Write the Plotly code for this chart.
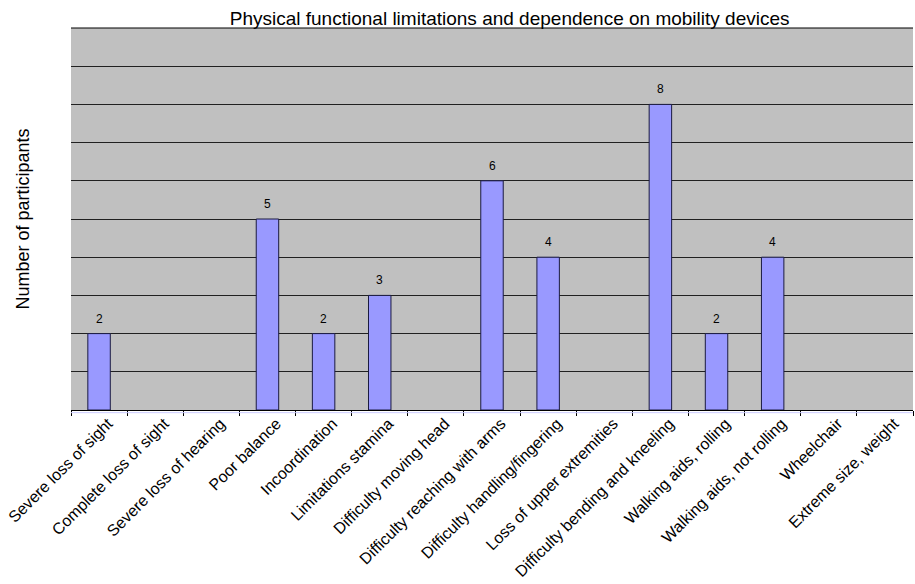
import plotly.graph_objects as go

categories = [
    "Severe loss of sight", "Complete loss of sight", "Severe loss of hearing",
    "Poor balance", "Incoordination", "Limitations stamina", "Difficulty moving head",
    "Difficulty reaching with arms", "Difficulty handling/fingering",
    "Loss of upper extremities", "Difficulty bending and kneeling",
    "Walking aids, rolling", "Walking aids, not rolling", "Wheelchair",
    "Extreme size, weight",
]
values = [2, 0, 0, 5, 2, 3, 0, 6, 4, 0, 8, 2, 4, 0, 0]

bar_y = [v if v > 0 else None for v in values]

fig = go.Figure(go.Bar(
    x=categories, y=bar_y, cliponaxis=False,
    marker=dict(color="#9999FF", line=dict(color="#1a1a40", width=1)),
    width=0.4,
))

for c, v in zip(categories, values):
    if v > 0:
        fig.add_annotation(x=c, y=v, text=str(v), showarrow=False,
                           yanchor="bottom", yshift=6,
                           font=dict(size=12, color="black"))

fig.update_layout(
    width=915, height=584,
    margin=dict(l=71, r=2, t=28, b=174),
    paper_bgcolor="white", plot_bgcolor="#C0C0C0",
    font=dict(family="Liberation Sans, Arial, sans-serif", color="black"),
    title=dict(text="Physical functional limitations and dependence on mobility devices",
               x=0.557, xanchor="center", y=0.969, yanchor="middle",
               font=dict(size=19)),
    showlegend=False, bargap=0.6,
)
fig.update_xaxes(
    tickangle=-45, tickfont=dict(size=16), tickson="boundaries",
    ticks="outside", ticklen=5, tickcolor="black",
    ticklabelstandoff=-3, ticklabelshift=9, automargin=False,
    showline=True, linecolor="black", linewidth=1, showgrid=False,
)
fig.update_yaxes(
    range=[0, 10], dtick=1, showticklabels=False, showgrid=True,
    gridcolor="#202020", gridwidth=1, zeroline=False, showline=False,
    automargin=False,
    title=dict(text="Number of participants", font=dict(size=18), standoff=35),
)
fig.add_shape(type="line", xref="paper", yref="paper", x0=0, x1=1, y0=1, y1=1,
              line=dict(color="black", width=1))
fig.add_shape(type="line", xref="paper", yref="paper", x0=0, x1=1,
              y0=-0.007, y1=-0.007, line=dict(color="#CCCCFF", width=1))

fig.write_html("out.html", config={"displayModeBar": False},
               post_script="document.body.style.margin='0';")
